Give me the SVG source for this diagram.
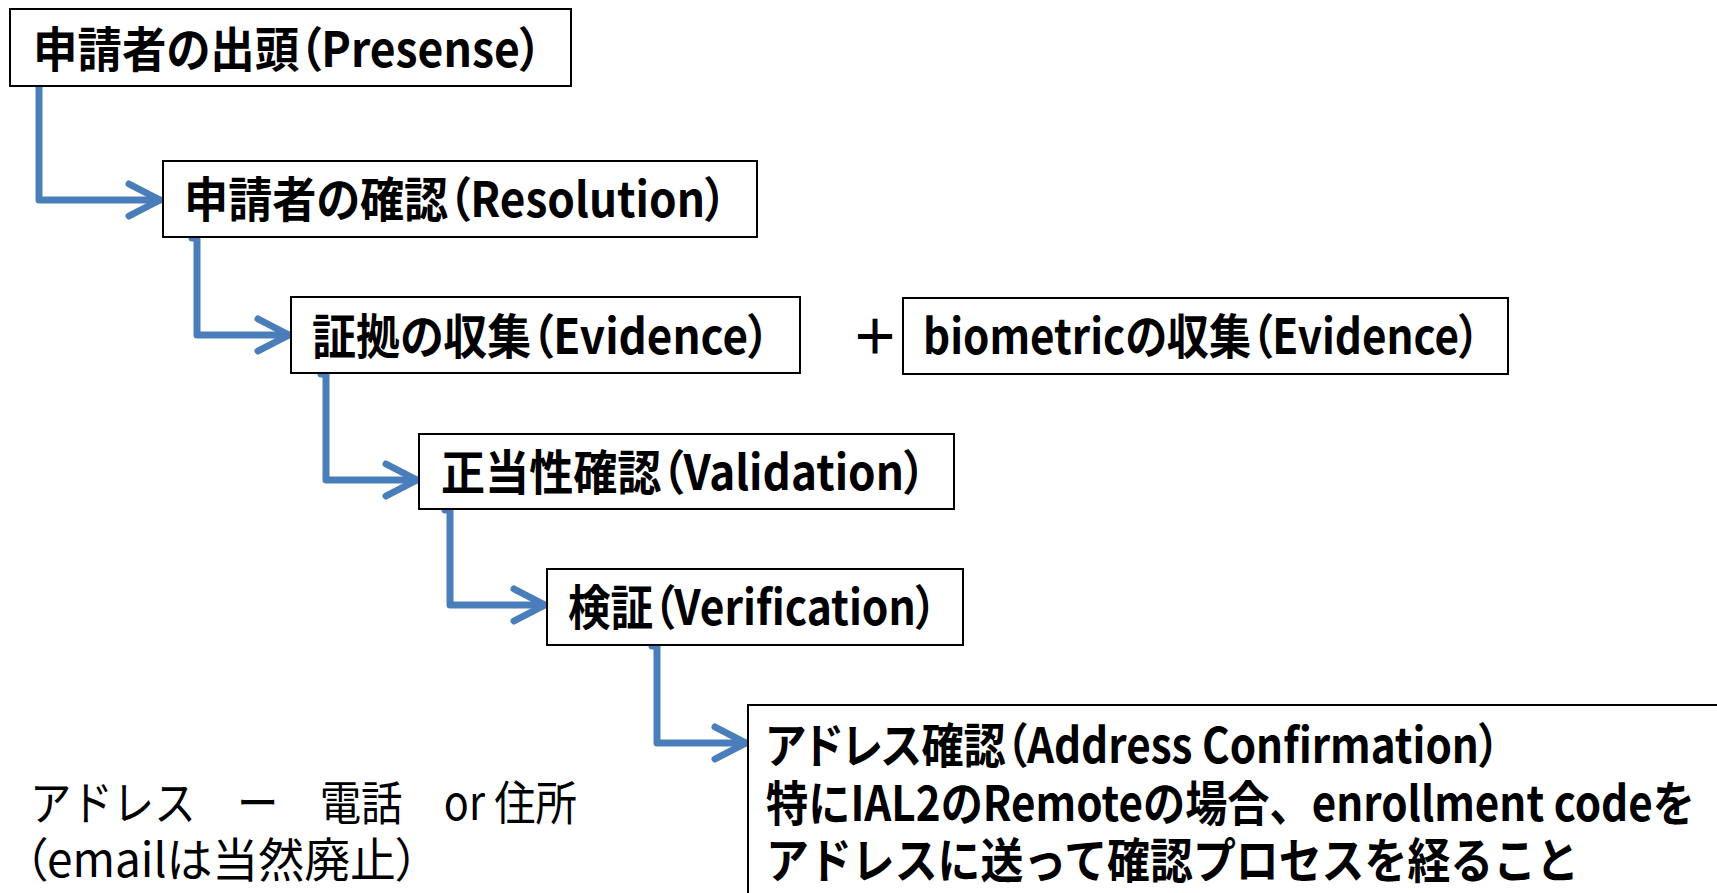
<svg xmlns="http://www.w3.org/2000/svg" width="1717" height="893" viewBox="0 0 1717 893">
<defs>
<style>
.box{fill:#fff;stroke:#000;stroke-width:2}
.t{font-family:"Noto Sans CJK JP","Noto Sans",sans-serif;font-weight:bold;font-size:48px;fill:#000}
.r{font-family:"Noto Sans CJK JP","Noto Sans",sans-serif;font-weight:normal;font-size:47px;fill:#000}
.p{font-feature-settings:"palt"}
.c{fill:none;stroke:#4a7ebb;stroke-width:7;stroke-linejoin:round;stroke-linecap:round}
</style>
<marker id="ah" markerUnits="userSpaceOnUse" markerWidth="50" markerHeight="50" refX="40" refY="20" orient="auto" viewBox="0 0 50 50">
<path d="M9,4 L40,20 L9,36" fill="none" stroke="#4a7ebb" stroke-width="7" stroke-linecap="round" stroke-linejoin="round"/>
</marker>
</defs>
<rect width="1717" height="893" fill="#fff"/>
<g id="connectors">
<path class="c" d="M39,86 V200 H160" marker-end="url(#ah)"/>
<path class="c" d="M192,238 H197 V335 H289" marker-end="url(#ah)"/>
<path class="c" d="M321,374 H326 V480 H417" marker-end="url(#ah)"/>
<path class="c" d="M445,510 H450 V605 H545" marker-end="url(#ah)"/>
<path class="c" d="M652,646 H657 V743 H746" marker-end="url(#ah)"/>
</g>
<g id="n1">
<rect class="box" x="10" y="9" width="561" height="77"/>
<text class="t p" x="33" y="67" textLength="509" lengthAdjust="spacingAndGlyphs">申請者の出頭（Presense）</text>
</g>
<g id="n2">
<rect class="box" x="163" y="161" width="594" height="76"/>
<text class="t p" x="184" y="217" textLength="543" lengthAdjust="spacingAndGlyphs">申請者の確認（Resolution）</text>
</g>
<g id="n3">
<rect class="box" x="291" y="297" width="509" height="76"/>
<text class="t p" x="312" y="354" textLength="458" lengthAdjust="spacingAndGlyphs">証拠の収集（Evidence）</text>
</g>
<g id="plus">
<text class="t" x="851" y="354">＋</text>
</g>
<g id="n3b">
<rect class="box" x="903" y="298" width="605" height="76"/>
<text class="t p" x="923" y="354" textLength="557" lengthAdjust="spacingAndGlyphs">biometricの収集（Evidence）</text>
</g>
<g id="n4">
<rect class="box" x="419" y="434" width="535" height="75"/>
<text class="t p" x="441" y="490" textLength="485" lengthAdjust="spacingAndGlyphs">正当性確認（Validation）</text>
</g>
<g id="n5">
<rect class="box" x="547" y="569" width="416" height="76"/>
<text class="t p" x="568" y="625" textLength="369" lengthAdjust="spacingAndGlyphs">検証（Verification）</text>
</g>
<g id="n6">
<rect class="box" x="748" y="705" width="1000" height="300"/>
<text class="t p" x="766" y="763" textLength="734" lengthAdjust="spacingAndGlyphs">アドレス確認（Address Confirmation）</text>
<text class="t" x="766" y="821" textLength="929" lengthAdjust="spacingAndGlyphs">特にIAL2のRemoteの場合、enrollment codeを</text>
<text class="t" x="766" y="878" textLength="813" lengthAdjust="spacingAndGlyphs">アドレスに送って確認プロセスを経ること</text>
</g>
<g id="note">
<text class="r" x="30" y="820" textLength="547" lengthAdjust="spacingAndGlyphs">アドレス　ー　電話　or 住所</text>
<text class="r p" x="24" y="877" textLength="395" lengthAdjust="spacingAndGlyphs">（emailは当然廃止）</text>
</g>
</svg>
